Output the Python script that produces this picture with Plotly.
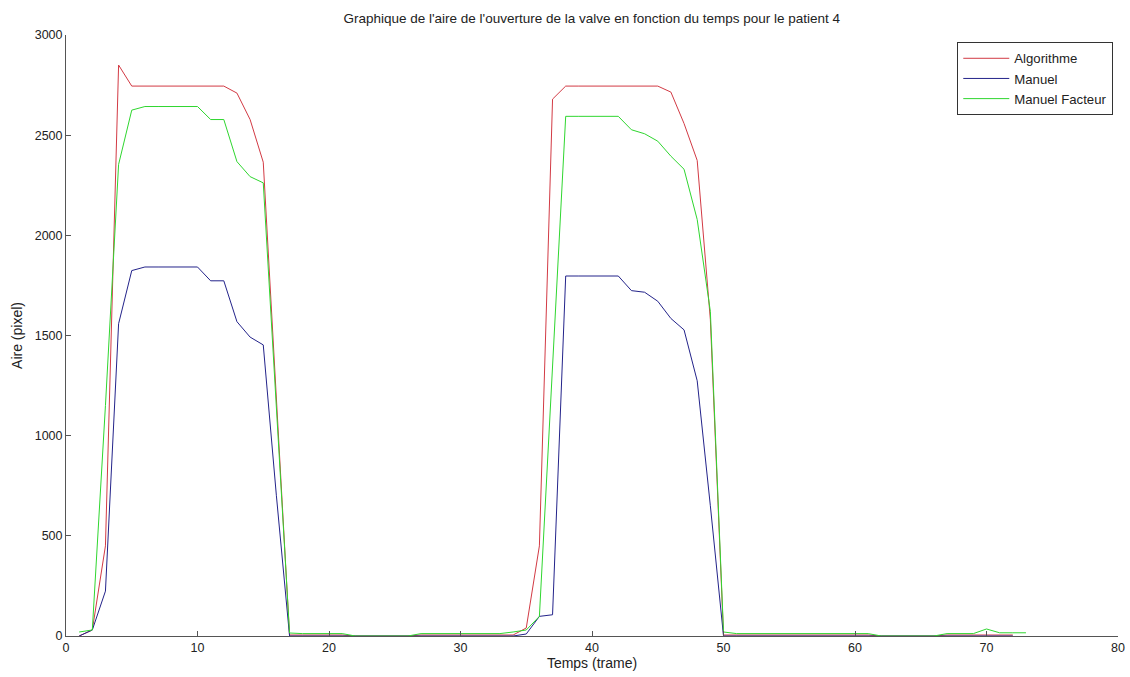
import plotly.graph_objects as go

frames_alg = list(range(1, 73))
frames_man = list(range(1, 73))
frames_fac = list(range(1, 74))

algorithme = [0, 30, 450, 2850, 2745, 2745, 2745, 2745, 2745, 2745, 2745, 2745, 2710, 2578, 2365, 1200,
              5, 5, 5, 5, 5, 0, 0, 0, 0, 0, 5, 5, 5, 5, 5, 5, 5, 5, 40, 450, 2680,
              2745, 2745, 2745, 2745, 2745, 2745, 2745, 2745, 2715, 2558, 2374, 1580, 5,
              5, 5, 5, 5, 5, 5, 5, 5, 5, 5, 5, 0, 0, 0, 0, 0, 5, 5, 5, 5, 5, 5]

manuel = [0, 30, 224, 1559, 1824, 1842, 1842, 1842, 1842, 1842, 1773, 1773, 1569, 1492, 1453, 700,
          0, 0, 0, 0, 0, 0, 0, 0, 0, 0, 0, 0, 0, 0, 0, 0, 0, 0, 10, 98, 106,
          1797, 1797, 1797, 1797, 1797, 1724, 1716, 1671, 1585, 1528, 1274, 650, 0,
          0, 0, 0, 0, 0, 0, 0, 0, 0, 0, 0, 0, 0, 0, 0, 0, 0, 0, 0, 0, 0, 0]

manuel_facteur = [20, 30, 1150, 2354, 2625, 2643, 2643, 2643, 2643, 2643, 2578, 2578, 2368, 2293, 2262, 1150,
                  15, 12, 12, 12, 12, 0, 0, 0, 0, 0, 12, 12, 12, 12, 12, 12, 12, 20, 30, 98, 1350,
                  2594, 2594, 2594, 2594, 2594, 2527, 2507, 2470, 2395, 2330, 2079, 1620, 20,
                  12, 12, 12, 12, 12, 12, 12, 12, 12, 12, 12, 0, 0, 0, 0, 0, 12, 12, 12, 35, 16, 16, 16]

x_ticks = [0, 10, 20, 30, 40, 50, 60, 70, 80]
y_ticks = [0, 500, 1000, 1500, 2000, 2500, 3000]

fig = go.Figure()
fig.add_trace(go.Scatter(x=frames_alg, y=algorithme, mode="lines", name="Algorithme",
                         line=dict(color="#d23a44", width=1)))
fig.add_trace(go.Scatter(x=frames_man, y=manuel, mode="lines", name="Manuel",
                         line=dict(color="#23238a", width=1)))
fig.add_trace(go.Scatter(x=frames_fac, y=manuel_facteur, mode="lines", name="Manuel Facteur",
                         line=dict(color="#2fd62f", width=1)))

font_family = "Liberation Sans, Arial, sans-serif"

fig.update_layout(
    width=1130, height=677,
    margin=dict(l=66, r=12, t=35, b=41, autoexpand=False),
    paper_bgcolor="white", plot_bgcolor="white",
    font=dict(family=font_family, size=12, color="#222222"),
    title=dict(text="Graphique de l'aire de l'ouverture de la valve en fonction du temps pour le patient 4",
               x=0.5237, xanchor="center", y=0.973, yanchor="middle",
               font=dict(size=13.5, color="#222222")),
    showlegend=True,
    legend=dict(x=0.9955, y=0.988, xanchor="right", yanchor="top",
                bordercolor="#333333", borderwidth=1, bgcolor="white",
                font=dict(size=13.2, color="#222222"), tracegroupgap=0,
                itemwidth=46),
)

fig.update_xaxes(range=[0, 80], tickvals=x_ticks, ticktext=[str(v) for v in x_ticks],
                 showgrid=False, zeroline=False, showline=True, linecolor="#555555", linewidth=1,
                 ticks="inside", ticklen=5, tickcolor="#555555", automargin=False,
                 title=dict(text="Temps (trame)", standoff=4, font=dict(size=14)),
                 tickfont=dict(size=12.5))
fig.update_yaxes(range=[0, 3000], tickvals=y_ticks, ticktext=[str(v) for v in y_ticks],
                 showgrid=False, zeroline=False, showline=True, linecolor="#555555", linewidth=1,
                 ticks="inside", ticklen=5, tickcolor="#555555", automargin=False,
                 title=dict(text="Aire (pixel)", standoff=8, font=dict(size=14)),
                 tickfont=dict(size=12.5))

fig.write_html("out.html")
